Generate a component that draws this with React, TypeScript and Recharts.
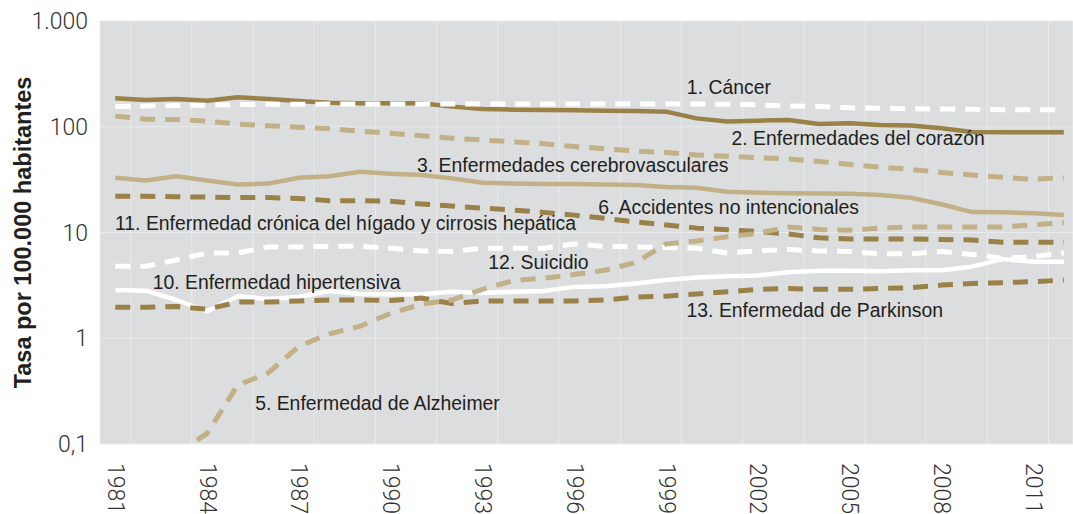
import React from 'react';
import {
  LineChart,
  Line,
  XAxis,
  YAxis,
  CartesianGrid,
  ReferenceDot,
} from 'recharts';

const YEARS = [
  1981, 1982, 1983, 1984, 1985, 1986, 1987, 1988, 1989, 1990, 1991, 1992, 1993, 1994, 1995, 1996,
  1997, 1998, 1999, 2000, 2001, 2002, 2003, 2004, 2005, 2006, 2007, 2008, 2009, 2010, 2011, 2012,
];
const YEAR_TICKS = [1981, 1984, 1987, 1990, 1993, 1996, 1999, 2002, 2005, 2008, 2011];
const Y_TICKS = [0.1, 1, 10, 100, 1000];
const Y_TICK_LABELS: Record<number, string> = { 0.1: '0,1', 1: '1', 10: '10', 100: '100', 1000: '1.000' };

// series values, one per year
const CORAZON = [
  186, 179, 183, 176, 190, 183, 175, 169, 167, 167, 167, 155, 147, 145, 144, 143,
  142, 141, 139, 120, 112, 114, 116, 106, 108, 104, 103, 97, 89, 88.5, 88.5, 88.5,
];
const CANCER = [
  155, 157, 159, 160, 162, 163, 163, 164, 164, 164, 164, 164, 164, 164, 164, 164,
  164, 164, 164, 164, 163, 161, 157, 155, 151, 150, 148, 147, 146, 145, 145, 145,
];
const CEREBRO = [
  126, 118, 117, 113, 106, 102, 99, 96, 91, 87, 82, 78, 75, 72, 69, 65,
  62, 59, 57, 54, 52.5, 51, 49.5, 47, 44, 41.5, 39.5, 37, 35, 33.3, 31.8, 33,
];
const ACCIDENTES = [
  33, 31, 34, 31, 28.5, 29, 33, 34, 37.5, 36, 35, 32.5, 29.5, 29, 28.7, 28.7,
  28.5, 28.2, 27, 26.5, 24.3, 23.8, 23.5, 23.4, 23.3, 22.6, 21.3, 18.5, 15.6, 15.5, 15.2, 14.6,
];
const HIGADO = [
  22, 22, 21.8, 21.6, 21.4, 21.4, 21, 20, 20, 19.7, 18.6, 17.8, 17, 16.3, 15.5, 14.6,
  13.6, 12.6, 11.8, 11, 10.6, 10.2, 9.7, 8.9, 8.7, 8.7, 8.7, 8.6, 8.5, 8.1, 8.1, 8.1,
];
const ALZHEIMER = [
  null, null, 0.08, 0.126, 0.36, 0.47, 0.84, 1.1, 1.3, 1.72, 2.1, 2.3, 2.9, 3.5, 3.7, 4.0,
  4.4, 5.2, 7.8, 8.3, 9.1, 9.8, 11.3, 10.7, 10.5, 11, 11.3, 11.3, 11.3, 11.3, 11.8, 12.4,
];
const SUICIDIO = [
  4.8, 4.8, 5.5, 6.4, 6.4, 7.3, 7.3, 7.4, 7.4, 7.1, 6.7, 6.6, 7.1, 7.1, 7.1, 7.8,
  7.4, 7.3, 7.2, 7.1, 6.4, 6.7, 6.9, 6.7, 6.6, 6.3, 6.3, 6.6, 6.2, 5.7, 5.9, 6.4,
];
const HIPERTENSIVA = [
  2.86, 2.82, 2.3, 1.8, 2.5, 2.35, 2.46, 2.8, 2.62, 2.6, 2.6, 2.75, 2.7, 2.75, 2.8, 3.06,
  3.1, 3.3, 3.55, 3.75, 3.85, 3.93, 4.2, 4.35, 4.35, 4.3, 4.4, 4.4, 4.75, 5.6, 5.3, 5.3,
];
const PARKINSON = [
  1.96, 1.96, 2.0, 1.88, 2.2, 2.2, 2.25, 2.3, 2.3, 2.27, 2.4, 2.13, 2.25, 2.25, 2.25, 2.25,
  2.3, 2.45, 2.5, 2.62, 2.75, 2.9, 2.95, 2.9, 2.9, 2.95, 3.0, 3.18, 3.3, 3.35, 3.43, 3.55,
];

// text labels placed in data coordinates
const LABEL_TEXTS = [
  '1. Cáncer',
  '2. Enfermedades del corazón',
  '3. Enfermedades cerebrovasculares',
  '5. Enfermedad de Alzheimer',
  '6. Accidentes no intencionales',
  '10. Enfermedad hipertensiva',
  '11. Enfermedad crónica del hígado y cirrosis hepática',
  '12. Suicidio',
  '13. Enfermedad de Parkinson',
];
const LABEL_YEARS = [1999.68, 2001.14, 1990.86, 1985.57, 1996.78, 1982.22, 1980.99, 1993.19, 1999.67];
const LABEL_VALUES = [237, 77.8, 43.5, 0.243, 17.5, 3.43, 12.4, 5.3, 1.85];

const DARK = '#9a8148';
const TAN = '#c2b087';
const WHITE = '#ffffff';
const DASH = '15 10';

const data = YEARS.map((year, i) => ({
  year,
  corazon: CORAZON[i],
  cancer: CANCER[i],
  cerebro: CEREBRO[i],
  accidentes: ACCIDENTES[i],
  higado: HIGADO[i],
  hipertensiva: HIPERTENSIVA[i],
  parkinson: PARKINSON[i],
  alzheimer: ALZHEIMER[i],
  suicidio: SUICIDIO[i],
}));

const gridYears = YEARS.map(y => y - 0.5);

const XTick = ({ x, y, payload }: any) => (
  <text
    x={x}
    y={y}
    transform={`rotate(90 ${x} ${y})`}
    textAnchor="start"
    dominantBaseline="central"
    fontFamily="Roboto, 'Liberation Sans', sans-serif"
    fontWeight={300}
    fontSize={23}
    fill="#333"
  >
    {payload.value}
  </text>
);

const YTitle = ({ viewBox }: any) => {
  const cx = 23;
  const cy = viewBox ? viewBox.y + viewBox.height / 2 : 232;
  return (
    <text
      x={cx}
      y={cy}
      transform={`rotate(-90 ${cx} ${cy})`}
      textAnchor="middle"
      dominantBaseline="central"
      fontFamily="'Liberation Sans', Arial, sans-serif"
      fontWeight="bold"
      fontSize={23.5}
      fill="#231f20"
    >
      Tasa por 100.000 habitantes
    </text>
  );
};

export default function App() {
  const lineProps = { type: 'linear' as const, dot: false, isAnimationActive: false, strokeLinejoin: 'round' as const };
  return (
    <div
      style={{
        position: 'absolute',
        left: 0,
        top: 0,
        width: 1073,
        height: 514,
        overflow: 'hidden',
        background: '#fff',
      }}
    >
      <LineChart width={1073} height={514} data={data} margin={{ top: 21, right: 0, bottom: 0, left: 0 }}>
        <CartesianGrid
          xAxisId="grid"
          fill="#dcdddf"
          fillOpacity={1}
          stroke="#ebebec"
          strokeWidth={1}
        />
        <XAxis
          xAxisId="grid"
          type="number"
          dataKey="year"
          domain={[1980.5, 2012.3]}
          allowDataOverflow
          ticks={gridYears}
          hide
        />
        <XAxis
          type="number"
          dataKey="year"
          domain={[1980.5, 2012.3]}
          allowDataOverflow
          ticks={YEAR_TICKS}
          interval={0}
          height={70}
          axisLine={false}
          tickLine={false}
          tickSize={0}
          tickMargin={19}
          tick={<XTick />}
        />
        <YAxis
          type="number"
          scale="log"
          domain={[0.1, 1000]}
          allowDataOverflow
          ticks={Y_TICKS}
          interval={0}
          width={100}
          axisLine={false}
          tickLine={false}
          tickSize={0}
          tickMargin={12}
          tickFormatter={(v: number) => Y_TICK_LABELS[v] ?? String(v)}
          tick={{ fontSize: 23, fill: '#333', fontFamily: "Roboto, 'Liberation Sans', sans-serif", fontWeight: 300 }}
          label={{ content: <YTitle /> }}
        />

        <Line dataKey="corazon" stroke={DARK} strokeWidth={4.5} {...lineProps} />
        <Line dataKey="cancer" stroke={WHITE} strokeWidth={5} strokeDasharray={DASH} {...lineProps} />
        <Line dataKey="cerebro" stroke={TAN} strokeWidth={5} strokeDasharray={DASH} {...lineProps} />
        <Line dataKey="accidentes" stroke={TAN} strokeWidth={4.5} {...lineProps} />
        <Line dataKey="higado" stroke={DARK} strokeWidth={5} strokeDasharray={DASH} {...lineProps} />
        <Line dataKey="hipertensiva" stroke={WHITE} strokeWidth={4.5} {...lineProps} />
        <Line dataKey="suicidio" stroke={WHITE} strokeWidth={5} strokeDasharray={DASH} {...lineProps} />
        <Line dataKey="parkinson" stroke={DARK} strokeWidth={5} strokeDasharray={DASH} {...lineProps} />
        <Line dataKey="alzheimer" stroke={TAN} strokeWidth={5} strokeDasharray={DASH} {...lineProps} />

        {LABEL_TEXTS.map((text, i) => (
          <ReferenceDot
            key={text}
            x={LABEL_YEARS[i]}
            y={LABEL_VALUES[i]}
            r={0}
            stroke="none"
            fill="none"
            ifOverflow="visible"
            label={{
              value: text,
              position: 'right',
              offset: 0,
              fill: '#231f20',
              fontSize: 19.4,
              fontFamily: "'Liberation Sans', Arial, sans-serif",
            }}
          />
        ))}
      </LineChart>
    </div>
  );
}
